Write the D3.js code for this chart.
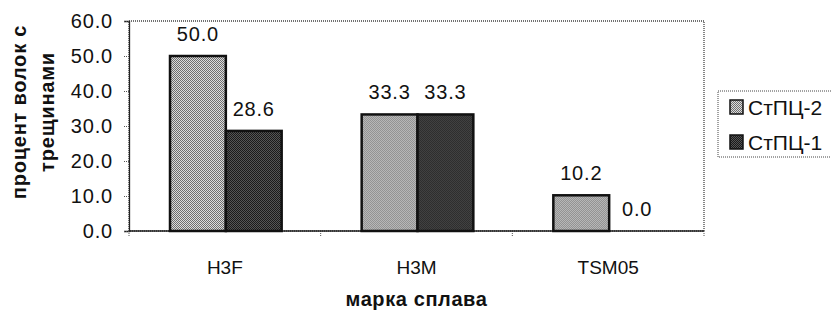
<!DOCTYPE html>
<html>
<head>
<meta charset="utf-8">
<script src="https://cdn.jsdelivr.net/npm/d3@7"></script>
<style>
  body { margin: 0; background: #fff; }
  svg { display: block; font-family: "Liberation Sans", Arial, sans-serif; }
</style>
</head>
<body>
<div id="chart"></div>
<script>
// data
const alloys = ['H3F', 'H3M', 'TSM05'];
const seriesNames = ['СтПЦ-2', 'СтПЦ-1'];
const stpc2 = [50.0, 33.3, 10.2];
const stpc1 = [28.6, 33.3, 0.0];
const yTicks = [0, 10, 20, 30, 40, 50, 60];

const width = 831;
const height = 310;
const margin = { top: 21, right: 127, bottom: 79, left: 129 };
const innerWidth = width - margin.left - margin.right;
const innerHeight = height - margin.top - margin.bottom;

const svg = d3.select('#chart')
  .append('svg')
  .attr('width', width)
  .attr('height', height);

// textured fills like the scanned image
const defs = svg.append('defs');
function checker(id, a, b) {
  const p = defs.append('pattern')
    .attr('id', id)
    .attr('width', 2)
    .attr('height', 2)
    .attr('patternUnits', 'userSpaceOnUse');
  p.append('rect').attr('width', 2).attr('height', 2).attr('fill', a);
  p.append('rect').attr('width', 1).attr('height', 1).attr('fill', b);
  p.append('rect').attr('x', 1).attr('y', 1).attr('width', 1).attr('height', 1).attr('fill', b);
}
checker('pat-light', '#dcdcdc', '#6e6e6e');
checker('pat-dark', '#555', '#1a1a1a');

const fills = ['url(#pat-light)', 'url(#pat-dark)'];

const g = svg.append('g')
  .attr('transform', `translate(${margin.left}, ${margin.top})`);

// scales
const x0 = d3.scaleBand()
  .domain(alloys)
  .range([0, innerWidth]);

const x1 = d3.scaleBand()
  .domain(seriesNames)
  .range([41, x0.bandwidth() - 39]);

const y = d3.scaleLinear()
  .domain([0, 60])
  .range([innerHeight, 0]);

// plot border (dotted)
g.append('rect')
  .attr('width', innerWidth)
  .attr('height', innerHeight)
  .attr('fill', 'none')
  .attr('stroke', '#444')
  .attr('stroke-width', 1.3)
  .attr('stroke-dasharray', '1,1');

// y axis
const yAxis = d3.axisLeft(y)
  .tickValues(yTicks)
  .tickSize(5)
  .tickPadding(11)
  .tickFormat(d3.format('.1f'));

g.append('g')
  .call(yAxis)
  .call((sel) => sel.attr('font-size', 20).attr('font-family', null))
  .call((sel) => sel.select('.domain').attr('stroke', '#222').attr('stroke-width', 1.3))
  .call((sel) => sel.selectAll('.tick line').attr('stroke', '#555').attr('stroke-dasharray', '1,1'))
  .call((sel) => sel.selectAll('.tick text').attr('fill', '#111').attr('letter-spacing', 0.8));

// x axis: separator ticks between categories
const sepValues = [0, 1, 2, 3].map((i) => i * x0.step());
g.append('g')
  .attr('transform', `translate(0, ${innerHeight})`)
  .selectAll('line')
  .data(sepValues)
  .enter()
  .append('line')
  .attr('x1', (d) => d)
  .attr('x2', (d) => d)
  .attr('y1', 0)
  .attr('y2', 5)
  .attr('stroke', '#555')
  .attr('stroke-dasharray', '1,1');

g.append('line')
  .attr('x1', 0)
  .attr('x2', innerWidth)
  .attr('y1', innerHeight)
  .attr('y2', innerHeight)
  .attr('stroke', '#222')
  .attr('stroke-width', 1.5);

g.selectAll('.cat-label')
  .data(alloys)
  .enter()
  .append('text')
  .attr('class', 'cat-label')
  .attr('x', (d) => x0(d) + x0.bandwidth() / 2)
  .attr('y', innerHeight + 43)
  .attr('text-anchor', 'middle')
  .attr('font-size', 19)
  .attr('fill', '#111')
  .text((d) => d);

// bars
const rows = alloys.map((a, i) => ({
  alloy: a,
  values: [
    { name: seriesNames[0], value: stpc2[i], s: 0 },
    { name: seriesNames[1], value: stpc1[i], s: 1 },
  ],
}));

const groups = g.selectAll('.group')
  .data(rows)
  .enter()
  .append('g')
  .attr('class', 'group')
  .attr('transform', (d) => `translate(${x0(d.alloy)}, 0)`);

groups.selectAll('rect')
  .data((d) => d.values.filter((v) => v.value > 0))
  .enter()
  .append('rect')
  .attr('x', (d) => x1(d.name))
  .attr('y', (d) => y(d.value))
  .attr('width', x1.bandwidth())
  .attr('height', (d) => innerHeight - y(d.value))
  .attr('fill', (d) => fills[d.s])
  .attr('stroke', '#111')
  .attr('stroke-width', 2.5);

groups.selectAll('.val')
  .data((d) => d.values)
  .enter()
  .append('text')
  .attr('class', 'val')
  .attr('x', (d) => x1(d.name) + x1.bandwidth() / 2)
  .attr('y', (d) => y(d.value) - 15)
  .attr('text-anchor', 'middle')
  .attr('font-size', 20)
  .attr('letter-spacing', 0.8)
  .attr('fill', '#111')
  .text((d) => d3.format('.1f')(d.value));

// axis titles
const yTitle = svg.append('text')
  .attr('transform', 'translate(0, 112) rotate(-90)')
  .attr('text-anchor', 'middle')
  .attr('font-size', 20)
  .attr('letter-spacing', 0.8)
  .attr('font-weight', 'bold')
  .attr('fill', '#111');
yTitle.append('tspan').attr('x', 0).attr('y', 26).text('процент волок с');
yTitle.append('tspan').attr('x', 0).attr('y', 54).text('трещинами');

svg.append('text')
  .attr('x', margin.left + innerWidth / 2)
  .attr('y', 306)
  .attr('text-anchor', 'middle')
  .attr('font-size', 20)
  .attr('letter-spacing', 0.6)
  .attr('font-weight', 'bold')
  .attr('fill', '#111')
  .text('марка сплава');

// legend
const legend = svg.append('g')
  .attr('transform', 'translate(718, 91)');

legend.append('rect')
  .attr('width', 130)
  .attr('height', 66)
  .attr('fill', 'none')
  .attr('stroke', '#444')
  .attr('stroke-dasharray', '1,1');

const legendRows = legend.selectAll('.legend-row')
  .data(seriesNames)
  .enter()
  .append('g')
  .attr('class', 'legend-row')
  .attr('transform', (d, i) => `translate(12, ${9 + i * 35})`);

legendRows.append('rect')
  .attr('width', 13)
  .attr('height', 14)
  .attr('fill', (d, i) => fills[i])
  .attr('stroke', '#111')
  .attr('stroke-width', 1.5);

legendRows.append('text')
  .attr('x', 18)
  .attr('y', 15)
  .attr('font-size', 21)
  .attr('fill', '#111')
  .text((d) => d);
</script>
</body>
</html>
